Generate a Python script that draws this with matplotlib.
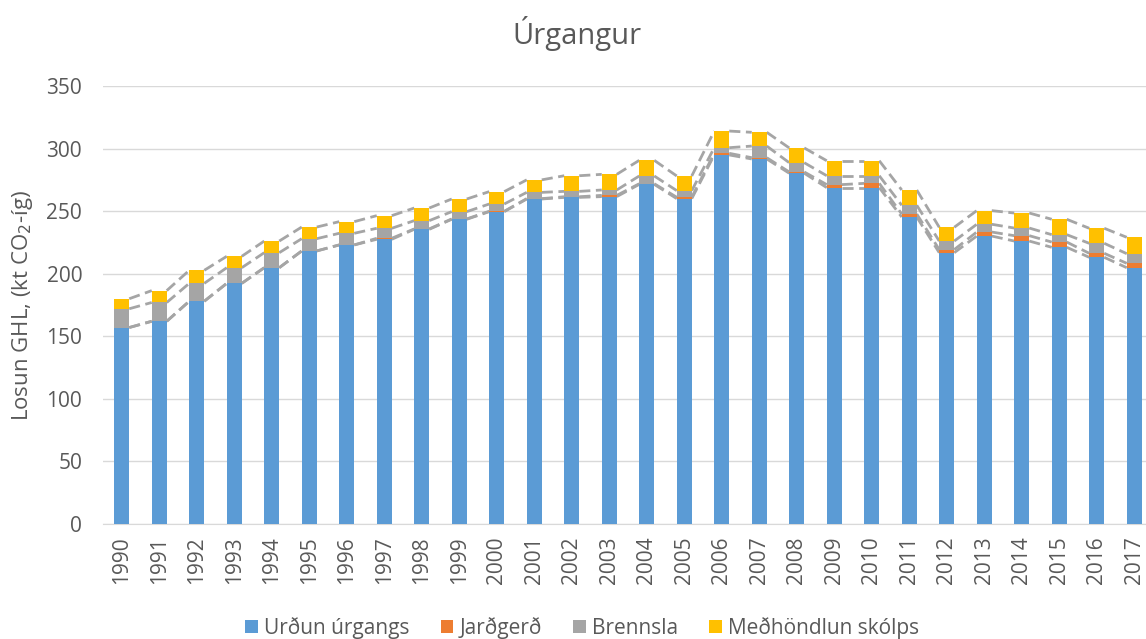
## Úrgangur - losun GHL eftir flokkum

import numpy as np
import matplotlib
matplotlib.use('Agg')
import matplotlib.pyplot as plt
from matplotlib.patches import Patch

plt.rcParams['font.family'] = ['Open Sans', 'DejaVu Sans']

years = [str(y) for y in range(1990, 2018)]

# kt CO2-íg
urdun = [157, 162, 178, 192.3, 204.8, 218.2, 223, 227.5, 235.5, 243.5,
         249.6, 259.7, 261, 261.6, 271.4, 260, 294.9, 291.7, 280.3, 268.8,
         268.8, 245.3, 216.8, 230.1, 226.1, 221.1, 213.1, 204.8]
jardgerd = [0, 0, 0, 0, 0, 0, 0, 0.8, 0.3, 0.3,
            0.3, 0.3, 0.5, 1.0, 0.5, 1.1, 1.3, 1.0, 1.0, 2.4,
            3.4, 2.4, 2.5, 3.2, 4.3, 4.2, 3.2, 3.5]
brennsla = [15, 15, 14.3, 12.5, 12, 9.8, 9.3, 8, 6.6, 5.8,
            5.8, 5, 4.3, 4.3, 6.2, 5.3, 4.5, 9.3, 7.4, 7.1,
            6.1, 7, 6.8, 6.2, 6.1, 5.9, 8, 7.7]
skolp = [8, 9.5, 10.4, 9.1, 9.3, 9.3, 9.3, 10.1, 10.1, 10.1,
         9.9, 10, 12.5, 12.5, 12.5, 11.7, 13.3, 11, 11.8, 12,
         12, 12.2, 11, 10.9, 12, 12.3, 12, 13.1]

labels = ['Urðun úrgangs', 'Jarðgerð', 'Brennsla', 'Meðhöndlun skólps']
colors = ['#5B9BD5', '#ED7D31', '#A5A5A5', '#FFC000']
series = [urdun, jardgerd, brennsla, skolp]

fig = plt.figure(figsize=(11.46, 6.39), dpi=100)
ax = fig.add_axes([103 / 1146, 115 / 639, 1050 / 1146, 438 / 639])

x = np.arange(len(years))
w = 0.4
bottom = np.zeros(len(years))
levels = []
for vals, col in zip(series, colors):
    ax.bar(x, vals, w, bottom=bottom, color=col, zorder=3)
    bottom = bottom + np.array(vals)
    levels.append(bottom.copy())

# series lines between bars (like Excel)
for lev in levels:
    for i in range(len(x) - 1):
        ax.plot([x[i] + w / 2, x[i + 1] - w / 2], [lev[i], lev[i + 1]],
                color='#A5A5A5', ls=(0, (4, 2)), lw=2, zorder=2)

ax.set_xlim(-0.5, len(years) - 0.5)
ax.set_ylim(0, 350)
ax.set_yticks(range(0, 351, 50))
ax.set_xticks(x)
ax.set_xticklabels(years, rotation=90)
ax.tick_params(axis='both', length=0, labelsize=15, colors='#595959')
ax.tick_params(axis='y', pad=15)
ax.tick_params(axis='x', pad=9)
ax.grid(axis='y', color='#D9D9D9', lw=1, zorder=0)
for s in ['top', 'right', 'left']:
    ax.spines[s].set_visible(False)
ax.spines['bottom'].set_color('#D9D9D9')

ax.set_ylabel('Losun GHL, (kt CO$_2$-íg)', fontsize=16, color='#595959', va='center')
ax.yaxis.set_label_coords(-0.077, 0.5)
fig.text(0.503, 0.948, 'Úrgangur', ha='center', va='center', fontsize=21, color='#595959')

handles = [Patch(facecolor=c, label=l) for c, l in zip(colors, labels)]
fig.legend(handles=handles, loc='center', bbox_to_anchor=(0.508, 0.017), ncol=4,
           frameon=False, fontsize=15, handlelength=0.6, handleheight=0.6,
           handletextpad=0.3, columnspacing=1.5, labelcolor='#595959')

fig.savefig('out.png', dpi=100)
